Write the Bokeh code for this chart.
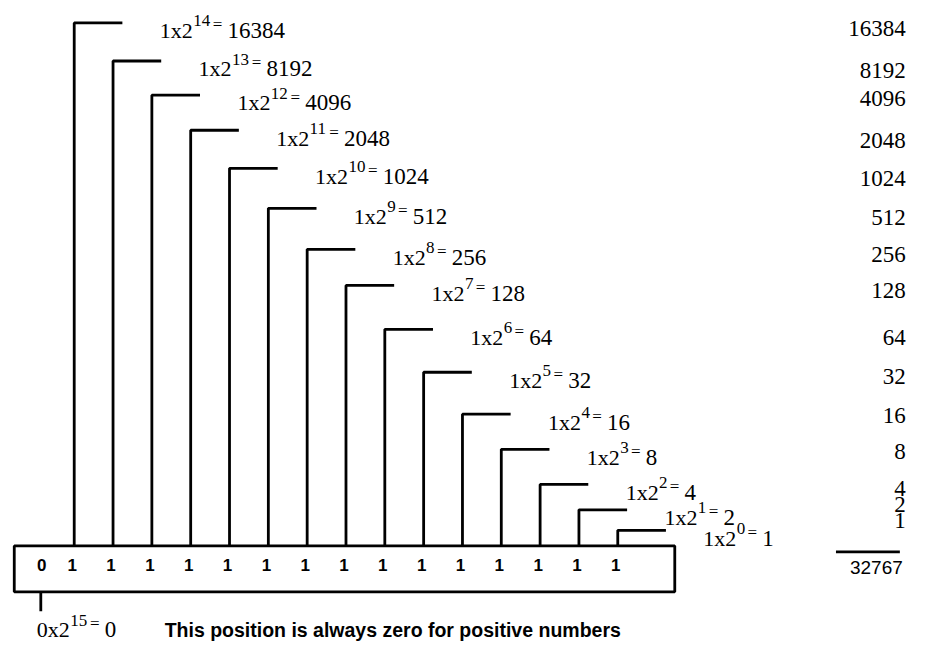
from bokeh.plotting import figure
from bokeh.models import Range1d
from bokeh.embed import file_html
from bokeh.resources import INLINE
from bokeh.core.properties import value

# ---- data ----
bits = [0, 1, 1, 1, 1, 1, 1, 1, 1, 1, 1, 1, 1, 1, 1, 1]
exponents = [15, 14, 13, 12, 11, 10, 9, 8, 7, 6, 5, 4, 3, 2, 1, 0]
place_values = [0, 16384, 8192, 4096, 2048, 1024, 512, 256, 128, 64, 32, 16, 8, 4, 2, 1]
total = 32767
note = "This position is always zero for positive numbers"

# ---- layout (reference-pixel coordinates) ----
arm_y = [23, 62, 97, 133, 172, 213, 255, 292, 337, 381, 424, 460, 496, 522, 543]
sum_y = [29, 72, 100, 143, 182, 222, 260, 297, 345, 385, 425, 462, 500, 517, 533]
pitch = 39.5
x_first = 75
arm_len = 49
label_dx = 87
box_l, box_r, box_t, box_b = 14, 686, 559, 606
sign_x = 41
bottom_base = 645

SERIF = value("Liberation Serif")
SANS = value("Liberation Sans")
LW = 2.8

p = figure(width=920, height=643, x_range=Range1d(0, 936), y_range=Range1d(659, 0),
           output_backend="svg", toolbar_location=None, min_border=0)
p.axis.visible = False
p.grid.visible = False
p.outline_line_color = None

# box
p.quad(left=[box_l], right=[box_r], top=[box_t], bottom=[box_b],
       fill_color=None, line_color="black", line_width=LW)

# bit digits
dig_x = [sign_x + 1] + [x_first - 2 + i * pitch for i in range(15)]
p.text(x=dig_x, y=[579] * 16, text=[str(b) for b in bits], text_font=SANS,
       text_font_style="bold", text_font_size="17px", text_align="center",
       text_baseline="middle", text_color="black")

# brackets and labels
xs, ys = [], []
base_x, base_y, base_t = [], [], []
sup_x, sup_y, sup_t = [], [], []
eq_x, eq_y = [], []
val_x, val_y, val_t = [], [], []


def add_label(tx, by, bit, e, v):
    base_x.append(tx); base_y.append(by); base_t.append(f"{bit}x2")
    sx = tx + 34
    sup_x.append(sx); sup_y.append(by - 10); sup_t.append(str(e))
    ex = sx + 9 * len(str(e)) + 2
    eq_x.append(ex); eq_y.append(by - 6)
    val_x.append(ex + 15); val_y.append(by); val_t.append(str(v))


for i, e in enumerate(exponents[1:]):
    lx = x_first + i * pitch
    ay = arm_y[i]
    xs.append([lx, lx, lx + arm_len])
    ys.append([box_t, ay, ay])
    add_label(lx + label_dx, ay + 8, bits[i + 1], e, place_values[i + 1])

# sign bit tick and label
xs.append([sign_x, sign_x])
ys.append([box_b, box_b + 20])
add_label(37, bottom_base, bits[0], exponents[0], place_values[0])

p.multi_line(xs=xs, ys=ys, line_color="black", line_width=LW)

p.text(x=base_x, y=base_y, text=base_t, text_font=SERIF, text_font_size="22px",
       text_baseline="alphabetic", text_color="black")
p.text(x=sup_x, y=sup_y, text=sup_t, text_font=SERIF, text_font_size="17px",
       text_baseline="alphabetic", text_color="black")
p.text(x=eq_x, y=eq_y, text=["="] * len(eq_x), text_font=SERIF, text_font_size="17px",
       text_baseline="alphabetic", text_color="black")
p.text(x=val_x, y=val_y, text=val_t, text_font=SERIF, text_font_size="23px",
       text_baseline="alphabetic", text_color="black")

# note
p.text(x=[167], y=[bottom_base], text=[note], text_font=SANS, text_font_style="bold",
       text_font_size="19.5px", text_baseline="alphabetic", text_color="black")

# right column sum
p.text(x=[921] * 15, y=sum_y, text=[str(v) for v in place_values[1:]], text_font=SERIF,
       text_font_size="23px", text_align="right", text_baseline="middle", text_color="black")
p.multi_line(xs=[[850, 915]], ys=[[565, 565]], line_color="black", line_width=LW)
p.text(x=[918], y=[581], text=[str(total)], text_font=SANS, text_font_size="19px",
       text_align="right", text_baseline="middle", text_color="black")

open("out.html", "w").write(file_html(p, INLINE))
